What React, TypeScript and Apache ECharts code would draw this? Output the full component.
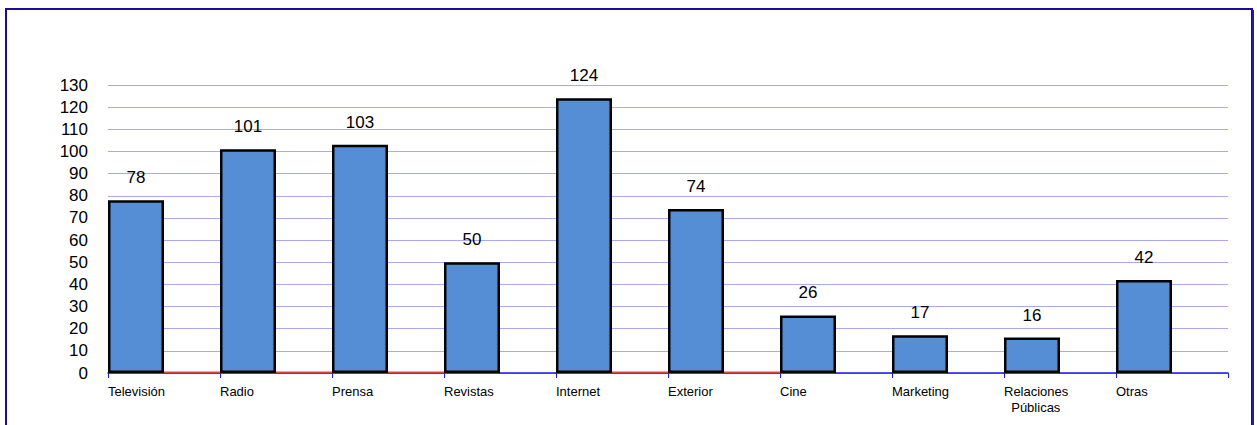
import React, { useEffect, useRef } from "react";
import * as echarts from "echarts";

const categories = ["Televisión", "Radio", "Prensa", "Revistas", "Internet", "Exterior", "Cine", "Marketing", "Relaciones\n  Públicas", "Otras"];
const values = [78, 101, 103, 50, 124, 74, 26, 17, 16, 42];
const secondValues: (number | null)[] = [0.3, 0.3, 0.3, null, 0.3, 0.3, null, null, null, null];
const yMin = 0;
const yMax = 130;
const yInterval = 10;

export default function App() {
  const ref = useRef<HTMLDivElement>(null);
  useEffect(() => {
    if (!ref.current) return;
    const chart = echarts.init(ref.current, undefined, { renderer: "svg" });
    chart.setOption({
      animation: false,
      backgroundColor: "#ffffff",
      textStyle: { fontFamily: "Liberation Sans, Arial, sans-serif" },
      graphic: [
        {
          type: "rect",
          shape: { x: 6, y: 9, width: 1246, height: 440 },
          style: { fill: "none", stroke: "#1c0c96", lineWidth: 2 },
          z: 100,
        },
        {
          type: "line",
          shape: { x1: 1253, y1: 10, x2: 1253, y2: 425 },
          style: { stroke: "#2a1aa0", lineWidth: 2 },
          z: 100,
        },
      ],
      grid: { left: 108, right: 29, top: 85, bottom: 52, containLabel: false },
      xAxis: [
        {
          type: "category",
          data: categories.map((c) => c),
          boundaryGap: true,
          axisLine: { show: true, lineStyle: { color: "#1a1aee", width: 1.5 } },
          axisTick: { show: true, interval: 0, length: 5, lineStyle: { color: "#1a1aee", width: 1 } },
          axisLabel: { show: false },
          splitLine: { show: false },
          z: 1,
        },
        {
          type: "category",
          data: [...categories, ""],
          boundaryGap: false,
          position: "bottom",
          axisLine: { show: false },
          axisTick: { show: false },
          axisLabel: {
            show: true,
            interval: 0,
            align: "left",
            margin: 10,
            fontSize: 13,
            color: "#000000",
            lineHeight: 16,
          },
          splitLine: { show: false },
        },
      ],
      yAxis: {
        type: "value",
        min: yMin,
        max: yMax,
        interval: yInterval,
        axisLine: { show: false },
        axisTick: { show: false },
        axisLabel: { fontSize: 17, color: "#000000", margin: 20 },
        splitLine: { show: true, lineStyle: { color: "#a8a8f6", width: 1 } },
      },
      series: [
        {
          type: "bar",
          xAxisIndex: 0,
          data: values,
          barGap: "0%",
          barCategoryGap: "0%",
          itemStyle: { color: "#558ed5", borderColor: "#000000", borderWidth: 2.5 },
          label: { show: true, position: "top", distance: 14, fontSize: 17, color: "#000000" },
          z: 3,
        },
        {
          type: "bar",
          xAxisIndex: 0,
          data: secondValues,
          barGap: "0%",
          barCategoryGap: "0%",
          barMinHeight: 1.6,
          itemStyle: { color: "#d84848" },
          z: 3,
        },
      ],
    });
    return () => chart.dispose();
  }, []);
  return <div ref={ref} style={{ position: "fixed", left: 0, top: 0, width: 1257, height: 425 }} />;
}
